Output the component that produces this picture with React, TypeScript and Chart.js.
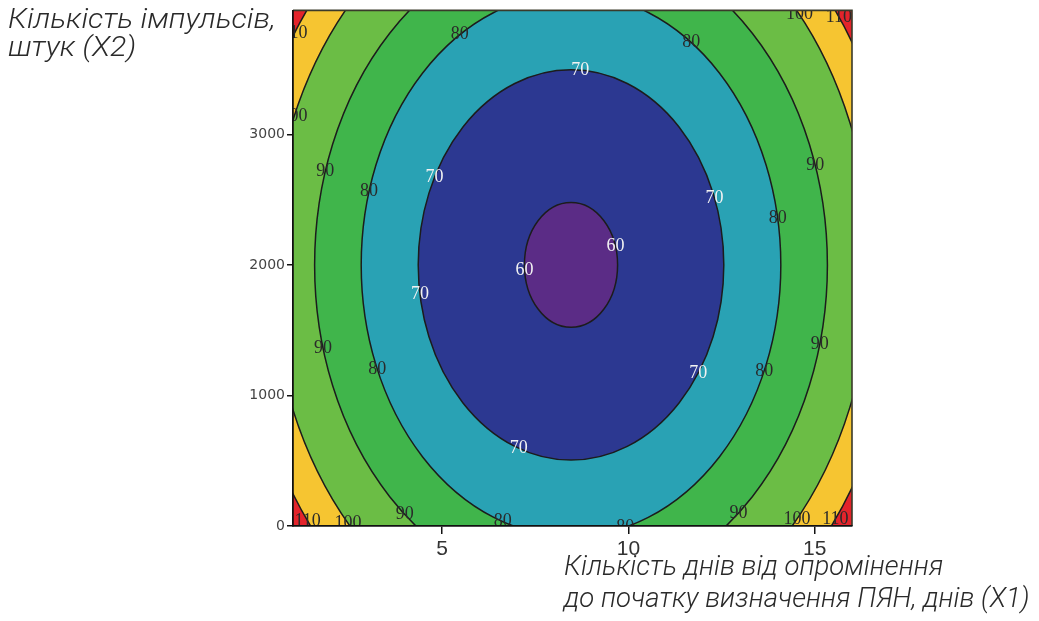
import React, { useEffect, useRef } from "react";
import { Chart, registerables } from "chart.js";

Chart.register(...registerables);

// ---- data ----
const xRange = [1, 16];
const yRange = [0, 3950];
const xTickValues = [5, 10, 15];
const yTickValues = [0, 1000, 2000, 3000];

// centre of the response surface (X1, X2)
const surfaceCentre = [8.46, 2000];
// contour levels and the half-extents of each level's ellipse (X1 units, X2 units)
const contourLevels = [60, 70, 80, 90, 100, 110];
const contourRadiusX1 = [1.25, 4.1, 5.63, 6.88, 8.05, 8.85];
const contourRadiusX2 = [478, 1495, 2080, 2511, 2959, 3257];

// contour labels: level and angle (deg) along that level's ellipse
const labelLevels = [110, 100, 90, 80, 70, 70, 60, 60, 70, 70, 80, 80, 80, 90, 90, 80, 70, 80, 90, 70, 100, 110, 110, 100, 90, 80, 80, 90, 100, 110];
const labelAngles = [147, 157.4, 163.4, 164.3, 153.3, 188.5, 185, 17, 86.5, 20, 122, 55, 10, 17.7, 194.8, 202.5, 326.3, 337, 346, 250, 40.4, 35.7, 217, 222, 229.6, 251, 285, 310.8, 318.9, 323.3];

const yTitle = ["Кількість імпульсів,", "штук (X2)"];
const xTitle = ["Кількість днів від опромінення", "до початку визначення ПЯН, днів (X1)"];

// ---- styles ----
// inside 60, 60-70, 70-80, 80-90, 90-100, 100-110, above 110
const bandColors = ["#5b2c86", "#2c3891", "#29a2b4", "#40b54b", "#6bbd45", "#f6c531", "#e3242b"];

const contourPlugin = {
  id: "contourFill",
  beforeDatasetsDraw(chart: any) {
    const { ctx, chartArea: a, scales } = chart;
    const xs = scales.x;
    const ys = scales.y;
    const cx = xs.getPixelForValue(surfaceCentre[0]);
    const cy = ys.getPixelForValue(surfaceCentre[1]);
    ctx.save();
    ctx.beginPath();
    ctx.rect(a.left, a.top, a.right - a.left, a.bottom - a.top);
    ctx.clip();
    ctx.fillStyle = bandColors[contourLevels.length];
    ctx.fillRect(a.left, a.top, a.right - a.left, a.bottom - a.top);
    for (let i = contourLevels.length - 1; i >= 0; i--) {
      const rx = Math.abs(xs.getPixelForValue(surfaceCentre[0] + contourRadiusX1[i]) - cx);
      const ry = Math.abs(ys.getPixelForValue(surfaceCentre[1] + contourRadiusX2[i]) - cy);
      ctx.beginPath();
      ctx.ellipse(cx, cy, rx, ry, 0, 0, Math.PI * 2);
      ctx.fillStyle = bandColors[i];
      ctx.fill();
      ctx.lineWidth = 1.5;
      ctx.strokeStyle = "#1c1c1c";
      ctx.stroke();
    }
    ctx.font = "18px 'Liberation Serif', serif";
    ctx.textAlign = "center";
    ctx.textBaseline = "middle";
    labelLevels.forEach((lvl, k) => {
      const i = contourLevels.indexOf(lvl);
      const t = (labelAngles[k] * Math.PI) / 180;
      const vx = surfaceCentre[0] + contourRadiusX1[i] * Math.cos(t);
      const vy = surfaceCentre[1] + contourRadiusX2[i] * Math.sin(t);
      ctx.fillStyle = lvl <= 70 ? "#f2f2f2" : "#2a2a2a";
      ctx.fillText(String(lvl), xs.getPixelForValue(vx), ys.getPixelForValue(vy));
    });
    ctx.restore();
    // top and right edges of the frame
    ctx.save();
    ctx.strokeStyle = "#3a3a2a";
    ctx.lineWidth = 1.6;
    ctx.beginPath();
    ctx.moveTo(a.left, a.top);
    ctx.lineTo(a.right, a.top);
    ctx.lineTo(a.right, a.bottom);
    ctx.stroke();
    ctx.restore();
  },
};

export default function App() {
  const canvasRef = useRef<HTMLCanvasElement | null>(null);

  useEffect(() => {
    const canvas = canvasRef.current;
    if (!canvas) return;
    const chart = new Chart(canvas, {
      type: "scatter",
      data: { datasets: [] },
      plugins: [contourPlugin],
      options: {
        animation: false,
        responsive: false,
        devicePixelRatio: 1,
        events: [],
        layout: { padding: { left: 0, right: 187, top: 9, bottom: 0 } },
        plugins: { legend: { display: false }, tooltip: { enabled: false }, title: { display: false } },
        scales: {
          x: {
            type: "linear",
            min: xRange[0],
            max: xRange[1],
            afterBuildTicks: (s: any) => {
              s.ticks = xTickValues.map((v) => ({ value: v }));
            },
            afterFit: (s: any) => {
              s.height = 95;
            },
            grid: { display: true, drawOnChartArea: false, drawTicks: true, tickLength: 8, color: "#111", lineWidth: 1.5 },
            border: { display: true, color: "#111", width: 1.8, z: 1 },
            ticks: {
              color: "#333",
              padding: 3,
              maxRotation: 0,
              callback: (v: any) => String(v),
              font: { family: "'Liberation Sans', sans-serif", size: 21 },
            },
          },
          y: {
            type: "linear",
            min: yRange[0],
            max: yRange[1],
            afterBuildTicks: (s: any) => {
              s.ticks = yTickValues.map((v) => ({ value: v }));
            },
            afterFit: (s: any) => {
              s.width = 293;
            },
            grid: { display: true, drawOnChartArea: false, drawTicks: true, tickLength: 6, color: "#111", lineWidth: 1.5 },
            border: { display: true, color: "#111", width: 1.8, z: 1 },
            ticks: {
              color: "#444",
              padding: 2,
              callback: (v: any) => String(v),
              font: { family: "'DejaVu Sans', sans-serif", size: 14 },
            },
          },
        },
      },
    });
    return () => chart.destroy();
  }, []);

  const titleStyle: React.CSSProperties = {
    position: "absolute",
    whiteSpace: "pre",
    fontFamily: "Roboto, 'Liberation Sans', sans-serif",
    fontStyle: "italic",
    fontWeight: 300,
    fontSize: "27px",
    color: "#2a2a2a",
    transformOrigin: "left top",
  };

  return (
    <div style={{ position: "fixed", left: 0, top: 0, width: 1039, height: 621, overflow: "hidden", background: "#fff" }}>
      <canvas ref={canvasRef} width={1039} height={621} style={{ position: "absolute", left: 0, top: 0, width: 1039, height: 621 }} />
      <div style={{ ...titleStyle, left: 8, top: 5, lineHeight: "28px", transform: "scaleX(1.13)" }}>{yTitle.join("\n")}</div>
      <div style={{ ...titleStyle, left: 564, top: 550, lineHeight: "32px", transform: "scaleX(1.02)" }}>{xTitle.join("\n")}</div>
    </div>
  );
}
